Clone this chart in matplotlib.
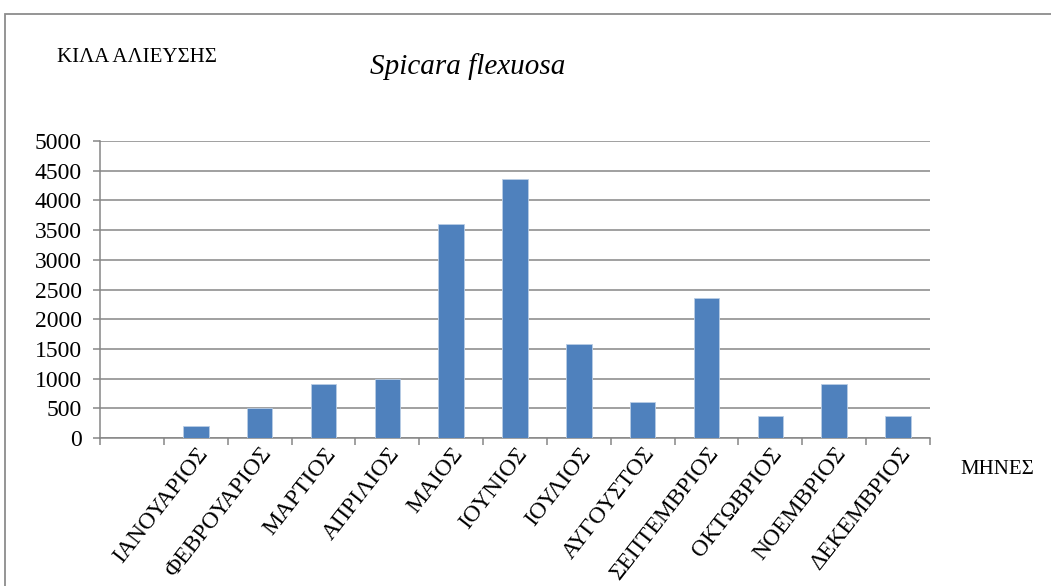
import numpy as np
import matplotlib.pyplot as plt
from matplotlib.patches import Rectangle

months = ["ΙΑΝΟΥΑΡΙΟΣ", "ΦΕΒΡΟΥΑΡΙΟΣ", "ΜΑΡΤΙΟΣ", "ΑΠΡΙΛΙΟΣ", "ΜΑΙΟΣ", "ΙΟΥΝΙΟΣ",
          "ΙΟΥΛΙΟΣ", "ΑΥΓΟΥΣΤΟΣ", "ΣΕΠΤΕΜΒΡΙΟΣ", "ΟΚΤΩΒΡΙΟΣ", "ΝΟΕΜΒΡΙΟΣ", "ΔΕΚΕΜΒΡΙΟΣ"]
kilos = [200, 500, 910, 1000, 3610, 4360, 1590, 600, 2350, 375, 905, 365]
yticks = [0, 500, 1000, 1500, 2000, 2500, 3000, 3500, 4000, 4500, 5000]

plt.rcParams["font.family"] = ["Liberation Serif", "DejaVu Serif"]

fig = plt.figure(figsize=(10.51, 5.86), dpi=100)
ax = fig.add_axes([100 / 1051, 1 - 438 / 586, 830 / 1051, 297 / 586])

# outer chart border (runs off the right and bottom edges)
fig.patches.append(Rectangle((5 / 1051, -0.1), 1.2, 1 - 14 / 586 + 0.1,
                             transform=fig.transFigure, fill=False,
                             edgecolor="#8c8c8c", lw=1.3))

# first slot on the axis is empty, months start at position 1
x = np.arange(1, len(months) + 1)
ax.bar(x, kilos, width=0.4, color="#4f81bd", edgecolor="#b9cde5", lw=0.6, zorder=3)

ax.set_xlim(-0.5, len(months) + 0.5)
ax.set_ylim(0, 5000)
ax.set_yticks(yticks)
ax.yaxis.grid(True, color="#868686", lw=1.1, zorder=0)

ax.set_xticks(x)
ax.set_xticklabels(months, rotation=52, ha="right", va="top",
                   rotation_mode="anchor", fontsize=17)
ax.set_xticks(np.arange(-0.5, len(months) + 1, 1), minor=True)
ax.tick_params(axis="x", which="major", length=0, pad=4)
ax.tick_params(axis="x", which="minor", length=5, color="#868686", width=1.1)
ax.tick_params(axis="y", length=5, color="#868686", width=1.1, pad=8, labelsize=17)

for side in ["top", "right"]:
    ax.spines[side].set_visible(False)
for side in ["left", "bottom"]:
    ax.spines[side].set_color("#868686")
    ax.spines[side].set_linewidth(1.1)

fig.text(57 / 1051, 1 - 57 / 586, "ΚΙΛΑ ΑΛΙΕΥΣΗΣ", fontsize=15, va="center", ha="left")
fig.text(370 / 1051, 1 - 67 / 586, "Spicara flexuosa", fontsize=21, style="italic",
         va="center", ha="left")
fig.text(960 / 1051, 1 - 470 / 586, "ΜΗΝΕΣ", fontsize=15, va="center", ha="left")

fig.savefig("out.png", dpi=100)
